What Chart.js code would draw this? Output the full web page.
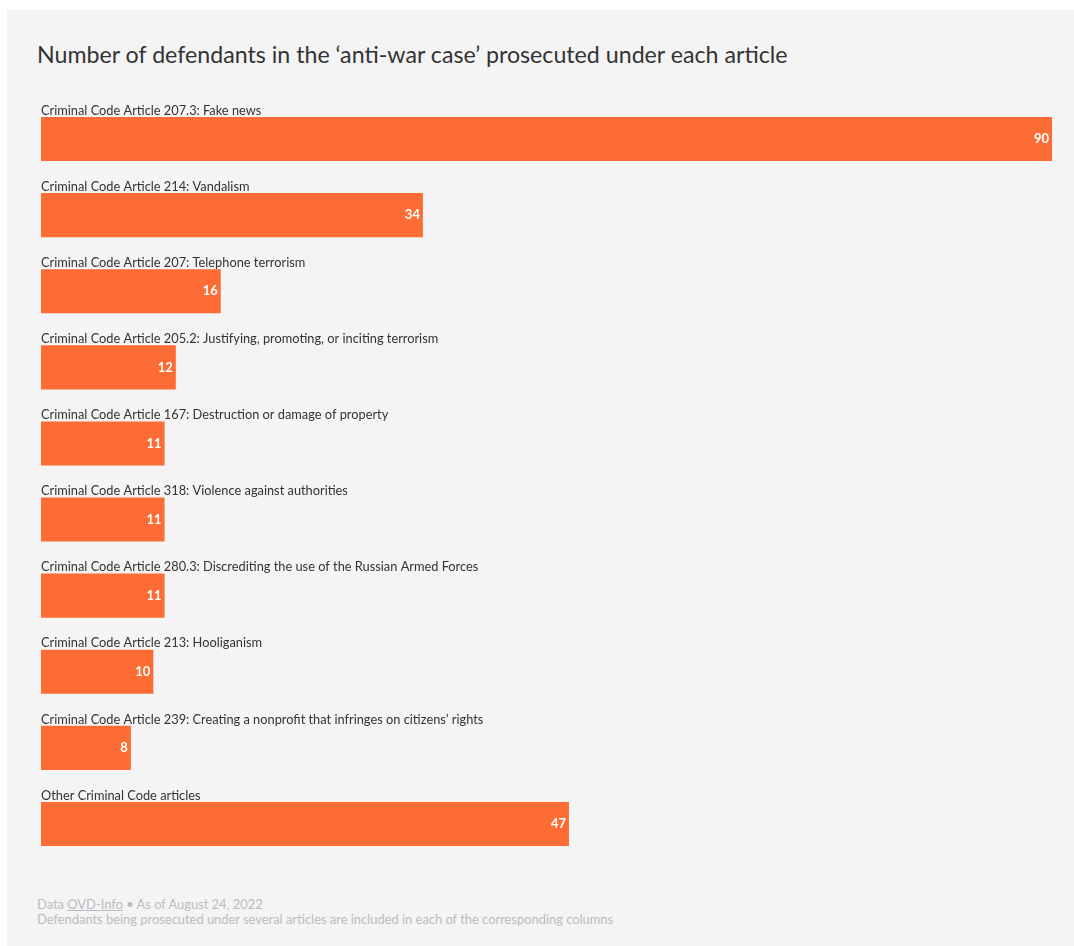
<!DOCTYPE html>
<html lang="en">
<head>
<meta charset="utf-8">
<style>
    body { margin: 0; background: #ffffff; font-family: Lato, "Noto Sans", sans-serif; }
    #panel { position: absolute; left: 7px; top: 10px; width: 1067px; height: 936px; background: #f4f4f4; }
    #title { position: absolute; left: 30px; top: 30px; font-size: 23.2px; color: #333333; white-space: nowrap; }
    #chartBox { position: absolute; left: 34px; top: 91px; width: 1011px; height: 761px; }
    #footer { position: absolute; left: 30px; top: 887px; font-size: 12.9px; line-height: 15px; color: #b8bdc3; }
    #footer a { color: #b8bdc3; }
</style>
</head>
<body>
<div id="panel">
    <div id="title">Number of defendants in the ‘anti-war case’ prosecuted under each article</div>
    <div id="chartBox"><canvas id="barChart"></canvas></div>
    <div id="footer">
        Data <a href="#">OVD-Info</a> • As of August 24, 2022<br>
        Defendants being prosecuted under several articles are included in each of the corresponding columns
    </div>
</div>
<script src="https://cdn.jsdelivr.net/npm/chart.js"></script>
<script>
    const categories = [
        'Criminal Code Article 207.3: Fake news',
        'Criminal Code Article 214: Vandalism',
        'Criminal Code Article 207: Telephone terrorism',
        'Criminal Code Article 205.2: Justifying, promoting, or inciting terrorism',
        'Criminal Code Article 167: Destruction or damage of property',
        'Criminal Code Article 318: Violence against authorities',
        'Criminal Code Article 280.3: Discrediting the use of the Russian Armed Forces',
        'Criminal Code Article 213: Hooliganism',
        'Criminal Code Article 239: Creating a nonprofit that infringes on citizens’ rights',
        'Other Criminal Code articles'
    ];
    const defendants = [90, 34, 16, 12, 11, 11, 11, 10, 8, 47];
    const axisMax = 90;

    // 막대 위 라벨과 막대 안 값 표시
    const barLabels = {
        id: 'barLabels',
        afterDatasetsDraw(chart) {
            const ctx = chart.ctx;
            const meta = chart.getDatasetMeta(0);
            ctx.save();
            meta.data.forEach((bar, i) => {
                const top = bar.y - bar.height / 2;
                ctx.fillStyle = '#333333';
                ctx.font = '12.8px Lato, "Noto Sans", sans-serif';
                ctx.textAlign = 'left';
                ctx.textBaseline = 'bottom';
                ctx.fillText(categories[i], bar.base, top);

                ctx.fillStyle = '#ffffff';
                ctx.font = 'bold 13px Lato, "Noto Sans", sans-serif';
                ctx.textAlign = 'right';
                ctx.textBaseline = 'middle';
                ctx.fillText(String(defendants[i]), bar.x - 3, bar.y);
            });
            ctx.restore();
        }
    };

    new Chart(document.getElementById('barChart'), {
        type: 'bar',
        data: {
            labels: categories,
            datasets: [{
                data: defendants,
                backgroundColor: '#fe6c35',
                borderWidth: 0,
                barPercentage: 44 / 76,
                categoryPercentage: 1
            }]
        },
        options: {
            indexAxis: 'y',
            responsive: true,
            maintainAspectRatio: false,
            animation: false,
            devicePixelRatio: 1,
            layout: { padding: 0 },
            plugins: {
                legend: { display: false },
                tooltip: { enabled: false }
            },
            scales: {
                x: { display: false, min: 0, max: axisMax },
                y: { display: false }
            }
        },
        plugins: [barLabels]
    });
</script>
</body>
</html>
